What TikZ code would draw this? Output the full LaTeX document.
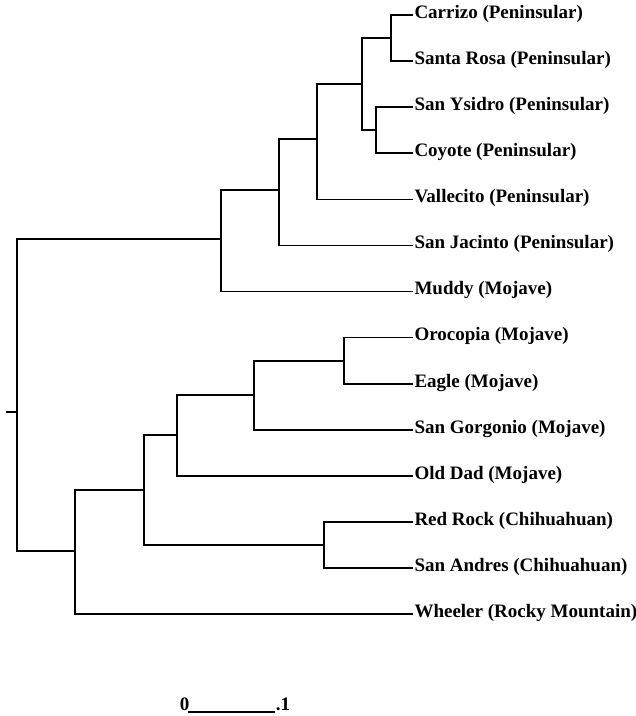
\documentclass[tikz,border=0pt]{standalone}
\usepackage{fontspec}
\setmainfont{Liberation Serif}
\begin{document}
\begin{tikzpicture}[x=1pt,y=-1pt,
  br/.style={line width=1.8pt,line cap=rect},
  leaf/.style={anchor=west,inner sep=0pt,outer sep=2.5pt,font=\fontsize{19}{19}\selectfont\bfseries,text height=0.66em,text depth=0pt},
  sclab/.style={inner sep=0pt,font=\fontsize{19}{19}\selectfont\bfseries,anchor=base}]
\useasboundingbox (0,0) rectangle (636,716);
% leaves
\node[leaf] (l0)  at (412,15)    {Carrizo (Peninsular)};
\node[leaf] (l1)  at (412,61)    {Santa Rosa (Peninsular)};
\node[leaf] (l2)  at (412,107)   {San Ysidro (Peninsular)};
\node[leaf] (l3)  at (412,153)   {Coyote (Peninsular)};
\node[leaf] (l4)  at (412,199.5) {Vallecito (Peninsular)};
\node[leaf] (l5)  at (412,245.5) {San Jacinto (Peninsular)};
\node[leaf] (l6)  at (412,291.5) {Muddy (Mojave)};
\node[leaf] (l7)  at (412,337.5) {Orocopia (Mojave)};
\node[leaf] (l8)  at (412,384)   {Eagle (Mojave)};
\node[leaf] (l9)  at (412,430)   {San Gorgonio (Mojave)};
\node[leaf] (l10) at (412,476)   {Old Dad (Mojave)};
\node[leaf] (l11) at (412,522)   {Red Rock (Chihuahuan)};
\node[leaf] (l12) at (412,568)   {San Andres (Chihuahuan)};
\node[leaf] (l13) at (412,614)   {Wheeler (Rocky Mountain)};
% internal nodes
\coordinate (a) at (391,38);
\coordinate (b) at (376,130);
\coordinate (c) at (362,84);
\coordinate (d) at (317,139);
\coordinate (e) at (279,190);
\coordinate (f) at (221,239);
\coordinate (g) at (344,361);
\coordinate (h) at (254,395);
\coordinate (i) at (177,435);
\coordinate (j) at (324,545);
\coordinate (k) at (144,490);
\coordinate (m) at (75,551);
\coordinate (root) at (17,412);
\coordinate (tick) at (7,412);
% branches
\draw[br] (a) |- (l0.west) (a) |- (l1.west);
\draw[br] (b) |- (l2.west) (b) |- (l3.west);
\draw[br] (c) |- (a) (c) |- (b);
\draw[br] (d) |- (c) (d) |- (l4.west);
\draw[br] (e) |- (d) (e) |- (l5.west);
\draw[br] (f) |- (e) (f) |- (l6.west);
\draw[br] (g) |- (l7.west) (g) |- (l8.west);
\draw[br] (h) |- (g) (h) |- (l9.west);
\draw[br] (i) |- (h) (i) |- (l10.west);
\draw[br] (j) |- (l11.west) (j) |- (l12.west);
\draw[br] (k) |- (i) (k) |- (j);
\draw[br] (m) |- (k) (m) |- (l13.west);
\draw[br] (root) |- (f) (root) |- (m);
\draw[br] (tick) -- (root);
% scale bar
\node[sclab] (s0) at (184.5,710) {0};
\node[sclab] (s1) at (283,710) {.1};
\coordinate (sbl) at (188,712);
\coordinate (sbr) at (275,712);
\draw[line width=1.6pt] (sbl) -- (sbr);
\end{tikzpicture}
\end{document}
